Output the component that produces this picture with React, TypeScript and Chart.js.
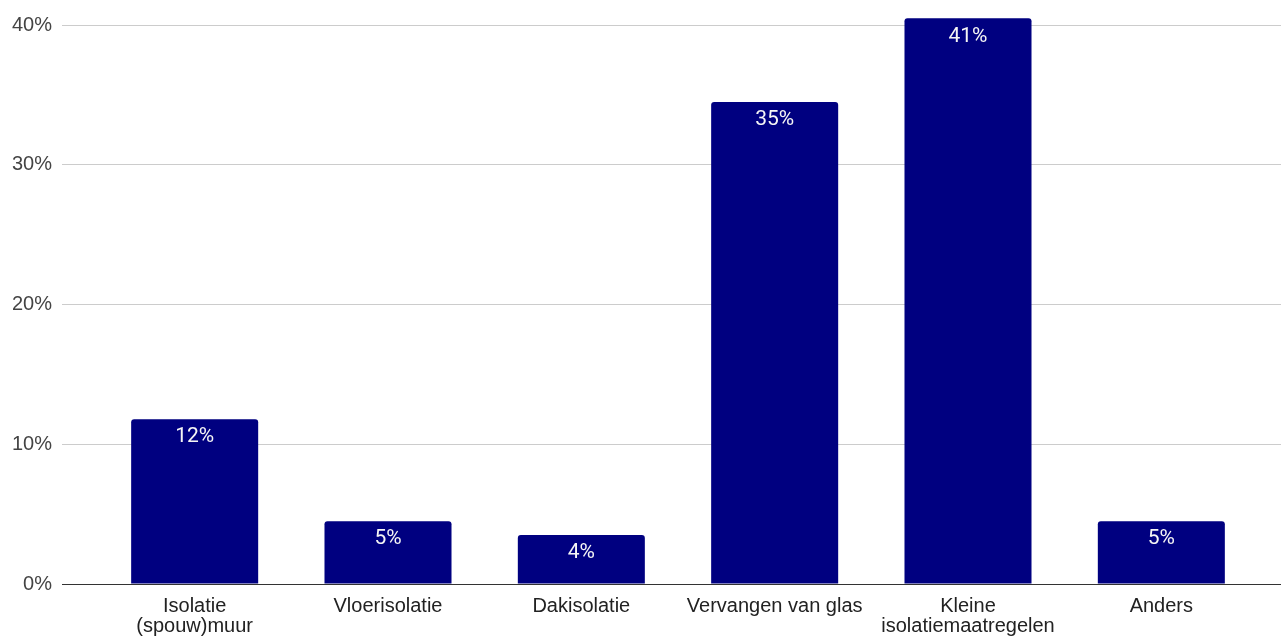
import React, { useEffect, useRef } from "react";
import { Chart, registerables } from "chart.js";

Chart.register(...registerables);

const categories: (string | string[])[] = [
  ["Isolatie", "(spouw)muur"],
  "Vloerisolatie",
  "Dakisolatie",
  "Vervangen van glas",
  ["Kleine", "isolatiemaatregelen"],
  "Anders",
];
const values: number[] = [11.8, 4.5, 3.5, 34.5, 40.5, 4.5];
const barLabels: string[] = ["12%", "5%", "4%", "35%", "41%", "5%"];
const yTicks: number[] = [0, 10, 20, 30, 40];

const GRID = "#cccccc";
const ZERO = "#333333";

const barLabelPlugin = {
  id: "barLabels",
  afterDatasetsDraw(chart: any) {
    const ctx = chart.ctx;
    const meta = chart.getDatasetMeta(0);
    ctx.save();
    ctx.font = "400 21px Roboto";
    ctx.fillStyle = "#f5f5f5";
    ctx.textAlign = "center";
    ctx.textBaseline = "middle";
    meta.data.forEach((el: any, i: number) => {
      ctx.fillText(barLabels[i], el.x, el.y + 18);
    });
    ctx.restore();
  },
};

export default function App() {
  const ref = useRef<HTMLCanvasElement>(null);
  useEffect(() => {
    if (!ref.current) return;
    const lineColor = (c: any) => (c.tick && c.tick.value === 0 ? ZERO : GRID);
    const chart = new Chart(ref.current, {
      type: "bar",
      data: {
        labels: categories as any,
        datasets: [
          {
            data: values,
            backgroundColor: "#000080",
            borderRadius: 3,
            barPercentage: 0.657,
            categoryPercentage: 1,
          },
        ],
      },
      options: {
        animation: false,
        responsive: false,
        maintainAspectRatio: false,
        layout: { padding: { top: 5, left: 0, right: 0, bottom: 0 } },
        plugins: { legend: { display: false }, tooltip: { enabled: false } },
        scales: {
          x: {
            grid: { display: false, drawTicks: false },
            border: { display: false },
            ticks: {
              color: "#222222",
              font: { family: "'Liberation Sans', Arial, sans-serif", size: 20, lineHeight: 1.0 },
              padding: 12,
              maxRotation: 0,
              autoSkip: false,
            },
            afterFit: (s: any) => {
              s.height = 52;
              s.paddingLeft = 0;
              s.paddingRight = 0;
            },
          },
          y: {
            position: "left",
            min: 0,
            max: 41.45,
            afterBuildTicks: (s: any) => {
              s.ticks = yTicks.map((v) => ({ value: v }));
            },
            grid: {
              color: lineColor,
              tickColor: lineColor,
              tickLength: 36,
              lineWidth: 1,
            },
            border: { display: false },
            ticks: {
              color: "#444444",
              font: { family: "'Liberation Sans', Arial, sans-serif", size: 20 },
              padding: 10,
              callback: (v: any) => v + "%",
            },
            afterFit: (s: any) => {
              s.width = 98;
              s.paddingTop = 0;
              s.paddingBottom = 0;
            },
          },
          y2: {
            position: "right",
            min: 0,
            max: 41.45,
            afterBuildTicks: (s: any) => {
              s.ticks = yTicks.map((v) => ({ value: v }));
            },
            grid: {
              drawOnChartArea: false,
              color: lineColor,
              tickColor: lineColor,
              tickLength: 23,
            },
            border: { display: false },
            ticks: { display: false },
            afterFit: (s: any) => {
              s.width = 23;
              s.paddingTop = 0;
              s.paddingBottom = 0;
            },
          },
        },
      },
      plugins: [barLabelPlugin],
    });
    return () => chart.destroy();
  }, []);
  return (
    <div style={{ position: "fixed", left: 0, top: 0, width: 1281, height: 636, background: "#fff" }}>
      <canvas ref={ref} width={1281} height={636} style={{ display: "block" }} />
    </div>
  );
}
